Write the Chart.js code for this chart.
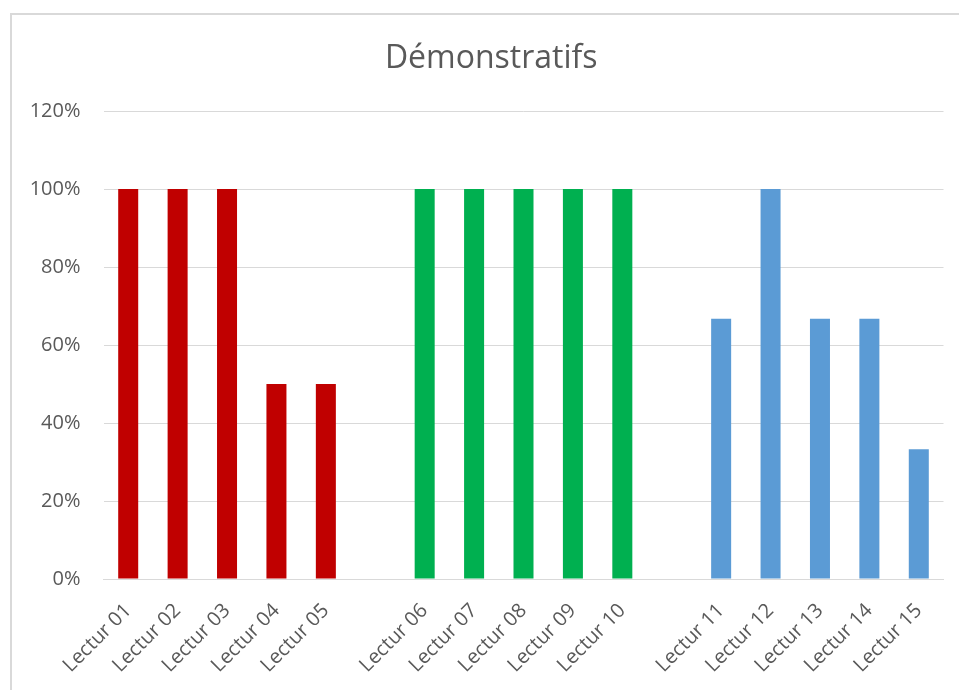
<!DOCTYPE html>
<html>
<head>
<meta charset="utf-8">
<script src="https://cdn.jsdelivr.net/npm/chart.js@4.4.1/dist/chart.umd.min.js"></script>
<style>
    html, body { margin: 0; padding: 0; background: #fff; }
    #wrap { position: relative; width: 959px; height: 690px; overflow: hidden; }
    #frame {
        position: absolute; left: 10px; top: 13px; width: 1000px; height: 1000px;
        border: 2px solid #d9d9d9; pointer-events: none;
    }
</style>
</head>
<body>
<div id="wrap">
    <canvas id="demoChart" width="959" height="690"></canvas>
    <div id="frame"></div>
</div>
<script>
const categories = [
    'Lectur 01', 'Lectur 02', 'Lectur 03', 'Lectur 04', 'Lectur 05', '',
    'Lectur 06', 'Lectur 07', 'Lectur 08', 'Lectur 09', 'Lectur 10', '',
    'Lectur 11', 'Lectur 12', 'Lectur 13', 'Lectur 14', 'Lectur 15'
];
const values = [
    100, 100, 100, 50, 50, null,
    100, 100, 100, 100, 100, null,
    66.7, 100, 66.7, 66.7, 33.3
];
const groups = [0, 0, 0, 0, 0, null, 1, 1, 1, 1, 1, null, 2, 2, 2, 2, 2];
const yTicks = [0, 20, 40, 60, 80, 100, 120];

const GROUP_COLORS = ['#c00000', '#00b050', '#5b9bd5'];
const TEXT = '#595959';
const GRID = '#d9d9d9';
const FONT = "'Open Sans', sans-serif";

// the original centres its title over the whole frame, which runs past the right edge
const shiftTitle = {
    id: 'shiftTitle',
    afterLayout(chart) {
        if (chart.titleBlock) chart.titleBlock.left = 39;
    }
};

const ctx = document.getElementById('demoChart').getContext('2d');
const chart = new Chart(ctx, {
    type: 'bar',
    data: {
        labels: categories,
        datasets: [{
            data: values,
            backgroundColor: groups.map(g => g === null ? 'transparent' : GROUP_COLORS[g]),
            borderWidth: 0,
            categoryPercentage: 1,
            barPercentage: 0.405
        }]
    },
    options: {
        responsive: false,
        animation: false,
        layout: { padding: { left: 0, right: 15.5, top: 0, bottom: 0 } },
        plugins: {
            legend: { display: false },
            tooltip: { enabled: false },
            title: {
                display: true,
                text: 'Démonstratifs',
                color: TEXT,
                font: { family: FONT, size: 32, weight: 'normal', lineHeight: 1.2 },
                padding: { top: 40, bottom: 32.6 }
            }
        },
        scales: {
            x: {
                grid: { display: false, drawTicks: false },
                border: { display: true, color: GRID, width: 1 },
                ticks: {
                    color: TEXT,
                    font: { family: FONT, size: 20 },
                    maxRotation: 45,
                    minRotation: 45,
                    autoSkip: false,
                    padding: 20
                },
                afterFit: (scale) => { scale.height = 111; }
            },
            y: {
                min: 0,
                max: 120,
                afterBuildTicks: (scale) => { scale.ticks = yTicks.map(v => ({ value: v })); },
                grid: { color: GRID, lineWidth: 1, drawTicks: false },
                border: { display: false },
                ticks: {
                    color: TEXT,
                    font: { family: FONT, size: 20 },
                    padding: 23,
                    callback: (v) => v + '%'
                },
                afterFit: (scale) => { scale.width = 103.5; }
            }
        }
    },
    plugins: [shiftTitle]
});
</script>
</body>
</html>
